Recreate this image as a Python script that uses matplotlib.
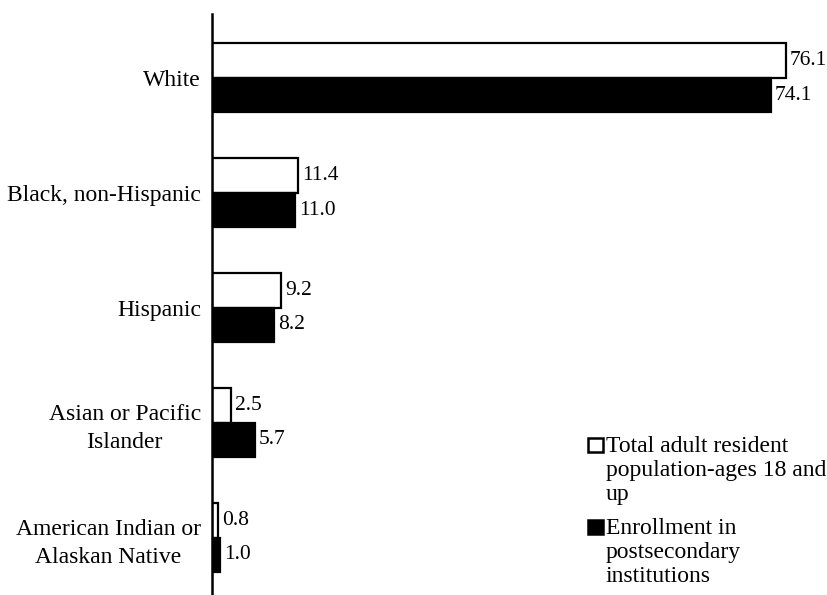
import matplotlib.pyplot as plt
from matplotlib.patches import Rectangle
import numpy as np

plt.rcParams['font.family'] = ['Liberation Serif', 'DejaVu Serif']

groups = ['White', 'Black, non-Hispanic', 'Hispanic',
          'Asian or Pacific\nIslander', 'American Indian or\nAlaskan Native']
population = [76.1, 11.4, 9.2, 2.5, 0.8]
enrollment = [74.1, 11.0, 8.2, 5.7, 1.0]
legend_labels = ['Total adult resident\npopulation-ages 18 and\nup',
                 'Enrollment in\npostsecondary\ninstitutions']

W, H = 828, 595
fig = plt.figure(figsize=(W/100, H/100), dpi=100)
ax = fig.add_axes([212/W, 0, 1 - 212/W, 1 - 14/H])

y = np.arange(len(groups))
h = 0.3
b1 = ax.barh(y - h/2, population, height=h, color='white', edgecolor='black', linewidth=1.6)
b2 = ax.barh(y + h/2, enrollment, height=h, color='black', edgecolor='black', linewidth=1.6)

for bars, vals in [(b1, population), (b2, enrollment)]:
    for bar, v in zip(bars, vals):
        ax.annotate(f'{v:.1f}', (bar.get_width(), bar.get_y() + bar.get_height()/2),
                    xytext=(3, 0), textcoords='offset points',
                    va='center', ha='left', fontsize=15.5)

ax.set_xlim(0, 616/7.54)
ax.set_ylim(4.5, -0.556)
ax.set_yticks(y)
ax.set_yticklabels(groups, fontsize=17)
for lab in ax.get_yticklabels():
    lab.set_multialignment('center')
    lab.set_linespacing(1.45)
ax.tick_params(axis='y', length=0, pad=8)
ax.set_xticks([])
for s in ['top', 'right', 'bottom']:
    ax.spines[s].set_visible(False)
ax.spines['left'].set_linewidth(1.8)

# legend drawn by hand: square beside the first line of each entry
for (top, face), label in zip([(438, 'white'), (520, 'black')], legend_labels):
    fig.patches.append(Rectangle((588/W, 1 - (top + 14)/H), 15/W, 14/H,
                                 transform=fig.transFigure, facecolor=face,
                                 edgecolor='black', linewidth=1.8))
    fig.text(606/W, 1 - (top - 2)/H, label, fontsize=17, va='top', ha='left',
             linespacing=1.2)

plt.savefig('out.png', dpi=100)
